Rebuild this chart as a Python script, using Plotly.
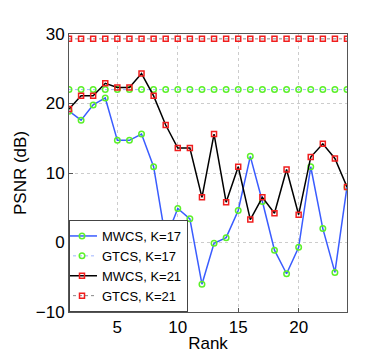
import plotly.graph_objects as go

rank = list(range(1, 25))

mwcs_k17 = [18.9, 17.6, 19.8, 20.8, 14.7, 14.7, 15.6, 10.9, 0.5, 4.9, 3.4, -6.0,
            -0.1, 0.7, 4.6, 12.4, 5.9, -1.1, -4.5, -0.7, 10.9, 2.0, -4.3, 8.0]
gtcs_k17 = [22.0] * 24
mwcs_k21 = [19.2, 21.1, 21.1, 22.9, 22.3, 22.3, 24.3, 21.1, 16.9, 13.6, 13.6, 6.5,
            15.6, 5.8, 10.9, 3.3, 6.5, 4.2, 10.5, 4.0, 12.3, 14.2, 12.1, 8.0]
gtcs_k21 = [29.3] * 24

green = "#5CF02A"
red = "#F01E1E"

fig = go.Figure()

fig.add_trace(go.Scatter(
    x=rank, y=mwcs_k17, name="MWCS, K=17", mode="lines+markers",
    line=dict(color="#3A5CFF", width=1.5),
    marker=dict(symbol="circle-open", size=5.5, color=green, line=dict(width=1.5))))

fig.add_trace(go.Scatter(
    x=rank, y=gtcs_k17, name="GTCS, K=17", mode="lines+markers",
    line=dict(color="#9FB4FF", width=1, dash="dot"),
    marker=dict(symbol="circle-open", size=5.5, color=green, line=dict(width=1.5))))

fig.add_trace(go.Scatter(
    x=rank, y=mwcs_k21, name="MWCS, K=21", mode="lines+markers",
    line=dict(color="black", width=1.5),
    marker=dict(symbol="square-open", size=5, color=red, line=dict(width=1.5))))

fig.add_trace(go.Scatter(
    x=rank, y=gtcs_k21, name="GTCS, K=21", mode="lines+markers",
    line=dict(color="#888888", width=1, dash="dot"),
    marker=dict(symbol="square-open", size=5, color=red, line=dict(width=1.5))))

axis_style = dict(
    showline=True, linecolor="#555555", linewidth=1, mirror=True,
    ticks="inside", ticklen=4, tickcolor="#555555",
    showgrid=True, gridcolor="#cccccc", griddash="dot", gridwidth=1,
    zeroline=False, tickfont=dict(size=17, color="black"),
)

fig.update_xaxes(range=[1, 24], tickvals=[5, 10, 15, 20],
                 title=dict(text="Rank", font=dict(size=17, color="black"), standoff=0),
                 **axis_style)
fig.update_yaxes(range=[-10, 30], tickvals=[-10, 0, 10, 20, 30],
                 title=dict(text="PSNR (dB)", font=dict(size=17, color="black"), standoff=4),
                 **axis_style)

fig.update_layout(
    width=374, height=353,
    margin=dict(l=56, r=35, t=26, b=40),
    paper_bgcolor="white", plot_bgcolor="white",
    font=dict(family="Liberation Sans, Arial, sans-serif", color="black"),
    legend=dict(x=0, y=0, xanchor="left", yanchor="bottom",
                bgcolor="white", bordercolor="#444444", borderwidth=1,
                font=dict(size=13), tracegroupgap=0, itemwidth=30,
                indentation=-8),
    showlegend=True,
)

fig.write_html("out.html")
